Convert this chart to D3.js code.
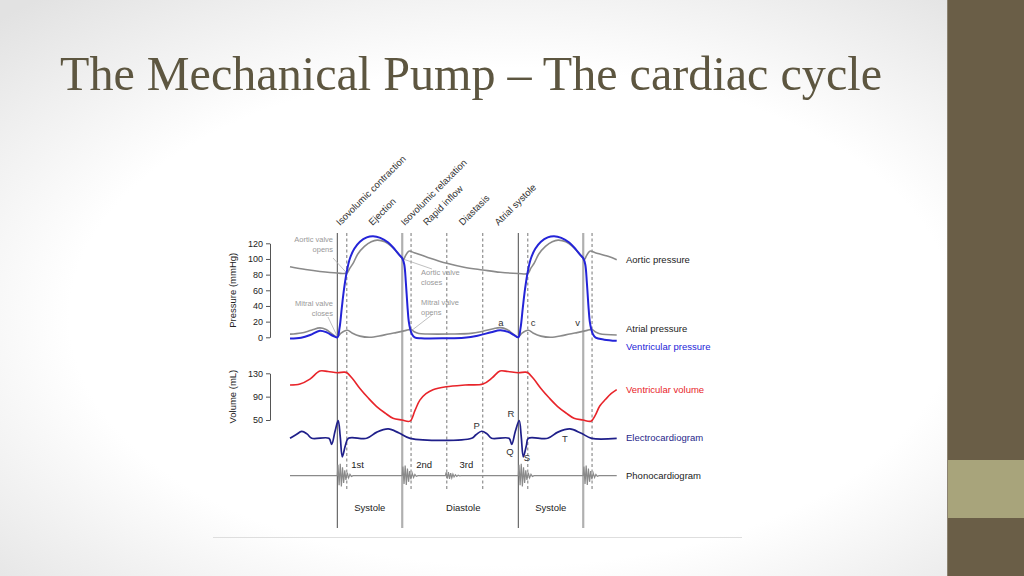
<!DOCTYPE html>
<html>
<head>
<meta charset="utf-8">
<script src="https://cdn.jsdelivr.net/npm/d3@7"></script>
<style>
  html, body { margin: 0; padding: 0; background: #fff; }
  svg { display: block; font-family: "Liberation Sans", Arial, sans-serif; }
</style>
</head>
<body>
<svg id="chart" width="1024" height="576"></svg>
<script>
// time in ms, 0 = mitral valve closes (start of cycle)
var eventTimes = [0, 42, 287, 326, 484, 643, 800, 842, 1087, 1126];
var eventKinds = ['solid', 'dash', 'gray', 'dash', 'dash', 'dash', 'solid', 'dash', 'gray', 'dash'];
var phaseNames = ['Isovolumic contraction', 'Ejection', 'Isovolumic relaxation', 'Rapid inflow', 'Diastasis', 'Atrial systole'];

var pressureTicks = [0, 20, 40, 60, 80, 100, 120];
var volumeTicks = [50, 90, 130];

var aorticPressure = [[-209,90],[-140,86.5],[-77,84],[0,82],[42,82],[55,88],[71,95],[90,106],[120,116],[150,122],[176,124],[210,122],[240,116],[265,108],[287,101],[293,99.5],[301,104],[316,110],[340,108],[400,102],[484,94.5],[560,89.5],[643,86],[720,83],[800,81.5],[842,81.5],[855,88],[871,95],[890,106],[920,116],[950,122],[976,124],[1010,122],[1040,116],[1065,108],[1087,101],[1093,99.5],[1101,104],[1116,110],[1140,108],[1200,103],[1235,99]];

var ventricularPressure = [[-209,-1.5],[-160,-0.5],[-120,3],[-77,8.5],[-45,6],[-20,2],[0,0],[10,12],[20,38],[30,62],[42,84],[55,100],[75,113],[100,122],[130,127.5],[158,129],[190,127],[225,121],[255,112],[275,105],[287,101],[296,93],[303,70],[310,40],[316,20],[322,11],[330,4],[342,0],[370,-1.2],[480,-1.2],[560,-0.5],[620,2],[680,6.5],[720,9],[755,7],[780,3],[800,0],[810,12],[820,38],[830,62],[842,84],[855,100],[875,113],[900,122],[930,127.5],[958,129],[990,127],[1025,121],[1055,112],[1075,105],[1087,101],[1096,93],[1103,70],[1110,40],[1116,20],[1122,11],[1130,4],[1142,-0.5],[1180,-3],[1235,-4.5]];

var atrialPressure = [[-209,4],[-160,5.5],[-115,9],[-77,12],[-50,10],[-22,4],[0,0],[15,5],[45,9],[65,5.5],[100,1.5],[144,0],[200,2.5],[260,6],[300,8.5],[326,10],[340,7],[360,4.8],[400,4.2],[500,4.2],[590,5],[640,7.5],[690,11],[720,12.3],[750,10],[778,4],[800,0],[815,5],[845,9],[865,5.5],[900,1.5],[944,0],[1000,2.5],[1060,6],[1100,8.5],[1126,10],[1140,7],[1160,4.5],[1235,3]];

var ventricularVolume = [[-209,110],[-165,111.6],[-121,120],[-77,134],[-41,133],[0,131],[31,132],[42,131],[65,122],[100,104],[136,88],[174,73],[211,62],[246,53],[286,50],[321,48],[343,66],[365,84],[392,95],[423,102],[481,107],[565,110],[644,111.6],[684,122],[719,134],[754,133],[800,131],[831,132],[842,131],[865,122],[900,104],[936,88],[974,73],[1011,62],[1046,53],[1086,50],[1121,48],[1140,58],[1160,74],[1187,86],[1210,95],[1235,102]];

// ECG amplitude relative to R peak
var ecg = [[-209,0],[-183,0.2],[-157,0.39],[-134,0.25],[-113,0],[-37,0],[-25,-0.34],[-10,0.4],[4,1],[13,0.1],[22,-1.05],[36,-0.4],[49,0],[130,0],[175,0.35],[225,0.53],[273,0.3],[322,0],[594,0],[613,0.2],[638,0.4],[662,0.25],[682,0],[759,0],[771,-0.34],[787,0.4],[804,1],[813,0.1],[822,-1.05],[836,-0.4],[844,0],[930,0],[975,0.35],[1028,0.53],[1076,0.3],[1124,0],[1235,0]];
var ecgLabels = ['P', 'R', 'Q', 'S', 'T'];

// heart sounds: onset time, burst gain
var soundTimes = [0, 287, 478, 800, 1087];
var soundGain = [1, 0.85, 0.3, 1, 0.85];
var soundNames = ['1st', '2nd', '3rd'];
var burst = [[0,0],[3,0.9],[8,-0.8],[13,1],[18,-0.9],[23,0.7],[28,-0.6],[33,0.45],[38,-0.35],[44,0.25],[50,-0.18],[56,0.12],[62,-0.06],[70,0]];

var legendNames = ['Aortic pressure', 'Atrial pressure', 'Ventricular pressure', 'Ventricular volume', 'Electrocardiogram', 'Phonocardiogram'];
var periodNames = ['Systole', 'Diastole', 'Systole'];

var svg = d3.select('#chart');

// slide background
var grad = svg.append('defs').append('radialGradient')
  .attr('id', 'bg').attr('cx', '50%').attr('cy', '55%').attr('r', '72%');
grad.append('stop').attr('offset', '0.6').attr('stop-color', '#ffffff');
grad.append('stop').attr('offset', '1').attr('stop-color', '#e2e2e2');
svg.append('rect').attr('width', 1024).attr('height', 576).attr('fill', 'url(#bg)');
svg.append('rect').attr('x', 947).attr('y', 0).attr('width', 77).attr('height', 576).attr('fill', '#6a5e47');
svg.append('rect').attr('x', 947).attr('y', 460).attr('width', 77).attr('height', 58).attr('fill', '#a8a47b');
svg.append('line').attr('x1', 947.5).attr('x2', 947.5).attr('y1', 0).attr('y2', 576).attr('stroke', '#8b8270');

svg.append('text')
  .attr('x', 60).attr('y', 90)
  .attr('textLength', 822).attr('lengthAdjust', 'spacingAndGlyphs')
  .style('font-family', '"Liberation Serif", "DejaVu Serif", serif')
  .style('font-size', '49px').attr('fill', '#5d5640')
  .text('The Mechanical Pump \u2013 The cardiac cycle');

svg.append('line').attr('x1', 213).attr('x2', 742).attr('y1', 537.5).attr('y2', 537.5)
  .attr('stroke', '#dedede').attr('stroke-width', 1);

// scales
var x = d3.scaleLinear().domain([0, 800]).range([337.3, 518.3]),
    yP = d3.scaleLinear().domain([0, 120]).range([337.3, 243.3]),
    yV = d3.scaleLinear().domain([50, 130]).range([420, 373.3]),
    yE = d3.scaleLinear().domain([0, 1]).range([438.3, 420.7]),
    yS = d3.scaleLinear().domain([-1, 1]).range([487.7, 463.7]);

var g = svg.append('g');

// event lines
g.selectAll('.ev').data(eventTimes).enter().append('line')
  .attr('class', 'ev')
  .attr('x1', d => x(d)).attr('x2', d => x(d))
  .attr('y1', 233)
  .attr('y2', (d, i) => eventKinds[i] == 'dash' ? 491 : 528)
  .attr('stroke', (d, i) => eventKinds[i] == 'solid' ? '#4a4a4a' : eventKinds[i] == 'gray' ? '#b0b0b0' : '#777')
  .attr('stroke-width', (d, i) => eventKinds[i] == 'gray' ? 2.2 : 1)
  .attr('stroke-dasharray', (d, i) => eventKinds[i] == 'dash' ? '3,2.5' : null);

// phase labels
g.selectAll('.phase').data(phaseNames).enter().append('text')
  .attr('class', 'phase')
  .attr('transform', (d, i) => 'translate(' + (x((eventTimes[i] + eventTimes[i + 1]) / 2) - 2) + ',226) rotate(-45)')
  .style('font-size', '9.5px').attr('fill', '#333')
  .text(d => d);

// axes
var styleAxis = (sel) => {
  sel.selectAll('path').attr('stroke', '#555');
  sel.selectAll('line').attr('stroke', '#555');
  sel.selectAll('text').style('font-size', '9px').attr('fill', '#222')
    .style('font-family', '"Liberation Sans", Arial, sans-serif');
};
g.append('g').attr('transform', 'translate(270,0)')
  .call(d3.axisLeft(yP).tickValues(pressureTicks).tickSize(4).tickSizeOuter(0).tickPadding(3))
  .call(styleAxis);
g.append('g').attr('transform', 'translate(270,0)')
  .call(d3.axisLeft(yV).tickValues(volumeTicks).tickSize(4).tickSizeOuter(0).tickPadding(3))
  .call(styleAxis);

g.append('text').attr('transform', 'translate(236,' + yP(60) + ') rotate(-90)')
  .attr('text-anchor', 'middle').style('font-size', '9.5px').attr('fill', '#222')
  .text('Pressure (mmHg)');
g.append('text').attr('transform', 'translate(236,' + yV(90) + ') rotate(-90)')
  .attr('text-anchor', 'middle').style('font-size', '9.5px').attr('fill', '#222')
  .text('Volume (mL)');

// annotations
var annot = [
  {lines: ['Aortic valve', 'opens'], x: 333, y: 239.5, anchor: 'end', t: 42, p: 82, lx: 333, ly: 258},
  {lines: ['Mitral valve', 'closes'], x: 333, y: 303, anchor: 'end', t: 0, p: 1, lx: 328, ly: 317},
  {lines: ['Aortic valve', 'closes'], x: 421, y: 272.5, anchor: 'start', t: 290, p: 100, lx: 432, ly: 269},
  {lines: ['Mitral valve', 'opens'], x: 421, y: 302, anchor: 'start', t: 330, p: 9, lx: 433, ly: 314}
];
annot.forEach(a => {
  g.append('line').attr('x1', a.lx).attr('y1', a.ly).attr('x2', x(a.t)).attr('y2', yP(a.p))
    .attr('stroke', '#b0b0b0').attr('stroke-width', 0.8);
  a.lines.forEach((s, i) => {
    g.append('text').attr('x', a.x).attr('y', a.y + i * 10).attr('dy', '0.35em')
      .attr('text-anchor', a.anchor).style('font-size', '7.5px').attr('fill', '#999')
      .text(s);
  });
});

var curve = d3.curveCatmullRom.alpha(0.5);
var lineP = d3.line().x(d => x(d[0])).y(d => yP(d[1])).curve(curve);

g.append('path').datum(aorticPressure).attr('d', lineP)
  .attr('fill', 'none').attr('stroke', '#8a8a8a').attr('stroke-width', 1.6);
g.append('path').datum(atrialPressure).attr('d', lineP)
  .attr('fill', 'none').attr('stroke', '#8a8a8a').attr('stroke-width', 1.6);
g.append('path').datum(ventricularPressure).attr('d', lineP)
  .attr('fill', 'none').attr('stroke', '#2424d8').attr('stroke-width', 2);

g.append('path').datum(ventricularVolume)
  .attr('d', d3.line().x(d => x(d[0])).y(d => yV(d[1])).curve(curve))
  .attr('fill', 'none').attr('stroke', '#e8242a').attr('stroke-width', 1.6);

g.append('path').datum(ecg)
  .attr('d', d3.line().x(d => x(d[0])).y(d => yE(d[1])).curve(curve))
  .attr('fill', 'none').attr('stroke', '#1f1f8a').attr('stroke-width', 1.7);

// phonocardiogram: baseline plus bursts
var phono = [[-209, 0]];
soundTimes.forEach((t, i) => {
  burst.forEach(b => phono.push([t + b[0], b[1] * soundGain[i]]));
});
phono.push([1235, 0]);
g.append('path').datum(phono)
  .attr('d', d3.line().x(d => x(d[0])).y(d => yS(d[1])))
  .attr('fill', 'none').attr('stroke', '#8a8a8a').attr('stroke-width', 1.2);

// wave letters (atrial pressure a, c, v)
var waveLetters = [['a', 723], ['c', 866], ['v', 1062]];
g.selectAll('.wave').data(waveLetters).enter().append('text')
  .attr('x', d => x(d[1])).attr('y', 322.5).attr('dy', '0.35em')
  .attr('text-anchor', 'middle')
  .style('font-size', '9.5px').attr('fill', '#333')
  .text(d => d[0]);

// ECG letters
var ecgLabelPos = [[638, 426], [790, 414], [785, 452], [860, 457.5], [1028, 438.5]];
g.selectAll('.ecgl').data(ecgLabels).enter().append('text')
  .attr('x', (d, i) => x(ecgLabelPos[i][0]) - 5).attr('y', (d, i) => ecgLabelPos[i][1]).attr('dy', '0.35em')
  .attr('text-anchor', 'middle').style('font-size', '9.5px').attr('fill', '#333')
  .text(d => d);

// heart sound names
g.selectAll('.snd').data(soundNames).enter().append('text')
  .attr('x', (d, i) => x(soundTimes[i]) + 14).attr('y', 465).attr('dy', '0.35em')
  .style('font-size', '9.5px').attr('fill', '#222')
  .text(d => d);

// systole / diastole
var periodBounds = [[0, 287], [287, 800], [800, 1087]];
g.selectAll('.per').data(periodNames).enter().append('text')
  .attr('x', (d, i) => (x(periodBounds[i][0]) + x(periodBounds[i][1])) / 2 + (i == 1 ? 3 : 0))
  .attr('y', 508).attr('dy', '0.35em')
  .attr('text-anchor', 'middle').style('font-size', '9.5px').attr('fill', '#222')
  .text(d => d);

// right-hand legend
var legendY = [259.5, 329, 346.5, 390, 437.5, 476];
var legendColor = ['#222', '#222', '#2424d8', '#e8242a', '#1f1f8a', '#222'];
g.selectAll('.leg').data(legendNames).enter().append('text')
  .attr('x', 626).attr('y', (d, i) => legendY[i]).attr('dy', '0.35em')
  .style('font-size', '9.5px').attr('fill', (d, i) => legendColor[i])
  .text(d => d);
</script>
</body>
</html>
